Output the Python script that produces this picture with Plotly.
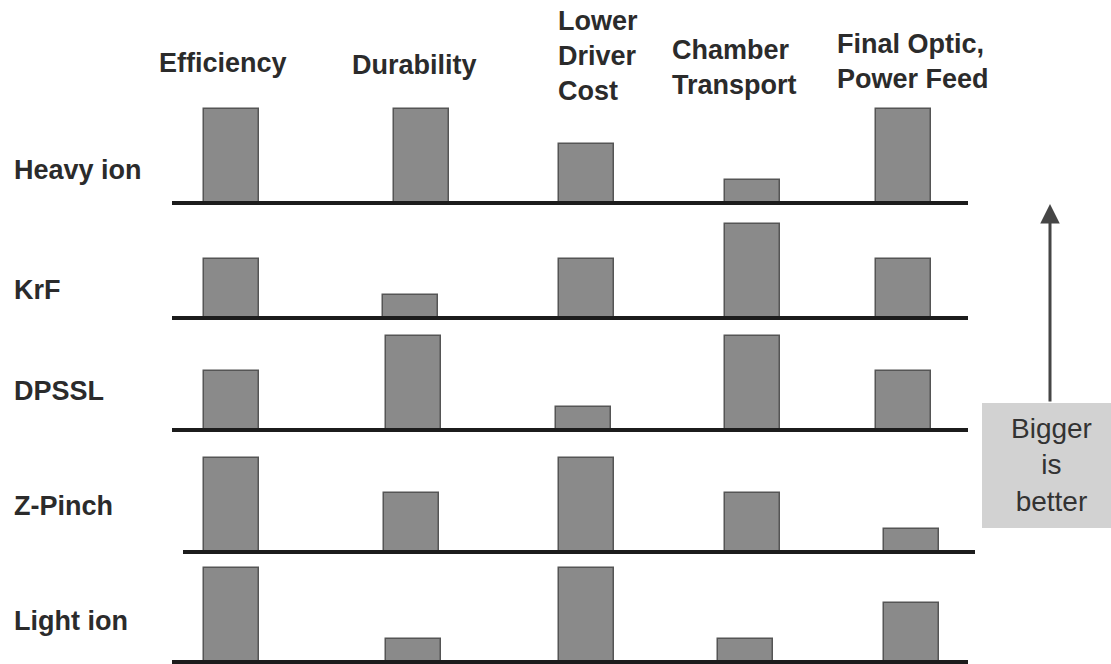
import plotly.graph_objects as go

# Driver technologies compared across five criteria (bigger bar = better)
criteria = ["Efficiency", "Durability", "Lower<br>Driver<br>Cost",
            "Chamber<br>Transport", "Final Optic,<br>Power Feed"]
drivers = ["Heavy ion", "KrF", "DPSSL", "Z-Pinch", "Light ion"]

heavy_ion = [4, 4, 2.5, 1, 4]
krf = [2.5, 1, 2.5, 4, 2.5]
dpssl = [2.5, 4, 1, 4, 2.5]
z_pinch = [4, 2.5, 4, 2.5, 1]
light_ion = [4, 1, 4, 1, 2.5]
scores = [heavy_ion, krf, dpssl, z_pinch, light_ion]

# ---- layout (pixel-based canvas) ----
W, H = 1111, 664
PX_PER_UNIT = 23.5
Y_LO, Y_HI = -0.08, 4.3
baselines_px = [203, 318, 430, 552, 662]
bar_centers = [
    [231, 421, 586, 752, 903],
    [231, 410, 586, 752, 903],
    [231, 413, 583, 752, 903],
    [231, 411, 586, 752, 911],
    [231, 413, 586, 745, 911],
]
line_spans = [(172, 968), (172, 968), (172, 968), (183, 975), (172, 968)]
label_y_px = [170, 290, 391, 506, 621]

BAR_FILL = "#8a8a8a"
BAR_EDGE = "#555555"
AXIS_LINE = "#1c1c1c"
TEXT = "#2b2b2b"
FONT = "Liberation Sans"
LABEL_SIZE = 27


def py(px):
    return 1 - px / H


fig = go.Figure()
shapes = []
annotations = []
layout_axes = {}

for i, (name, vals) in enumerate(zip(drivers, scores)):
    yname = "y" if i == 0 else f"y{i + 1}"
    axkey = "yaxis" if i == 0 else f"yaxis{i + 1}"
    b = baselines_px[i]
    lo = (H - b + Y_LO * PX_PER_UNIT) / H
    hi = (H - b + Y_HI * PX_PER_UNIT) / H
    layout_axes[axkey] = dict(domain=[max(lo, 0), hi], range=[Y_LO, Y_HI],
                              anchor="x", visible=False, fixedrange=True)
    fig.add_trace(go.Bar(
        x=bar_centers[i], y=vals, width=55, name=name,
        xaxis="x", yaxis=yname,
        marker=dict(color=BAR_FILL, line=dict(color=BAR_EDGE, width=1.5)),
        hoverinfo="skip", showlegend=False,
    ))
    x0, x1 = line_spans[i]
    shapes.append(dict(type="line", xref="x", yref=yname, x0=x0, x1=x1, y0=0, y1=0,
                       line=dict(color=AXIS_LINE, width=4), layer="above"))
    annotations.append(dict(text=f"<b>{name}</b>", xref="paper", yref="paper",
                            x=12 / W, y=py(label_y_px[i]), xanchor="left", yanchor="middle",
                            showarrow=False, font=dict(family=FONT, size=LABEL_SIZE, color=TEXT)))

# column headers
header_pos = [
    (157, 63),
    (350, 65),
    (556, 56),
    (670, 67),
    (835, 61),
]
for text, (x, y) in zip(criteria, header_pos):
    annotations.append(dict(text=f"<b>{text}</b>", xref="x", yref="paper",
                            x=x, y=py(y), xanchor="left", yanchor="middle", align="left",
                            showarrow=False, font=dict(family=FONT, size=LABEL_SIZE, color=TEXT)))

# "Bigger is better" key with upward arrow
shapes.append(dict(type="rect", xref="x", yref="paper", x0=982, x1=1111,
                   y0=py(528), y1=py(403), fillcolor="#d2d2d2", line=dict(width=0),
                   layer="below"))
annotations.append(dict(text="Bigger<br>is<br>better", xref="x", yref="paper",
                        x=1051, y=py(465), xanchor="center", yanchor="middle",
                        align="center", showarrow=False,
                        font=dict(family=FONT, size=28, color="#333333")))
annotations.append(dict(text="", xref="x", yref="paper", x=1050, y=py(204),
                        ax=0, ay=199, showarrow=True, arrowhead=2, arrowsize=1.3,
                        arrowwidth=3, arrowcolor="#454545"))

fig.update_layout(
    width=W, height=H,
    margin=dict(l=0, r=0, t=0, b=0),
    paper_bgcolor="white", plot_bgcolor="rgba(0,0,0,0)",
    xaxis=dict(domain=[0, 1], range=[0, W], visible=False, fixedrange=True),
    shapes=shapes, annotations=annotations,
    bargap=0, showlegend=False,
    **layout_axes,
)

fig.write_html("out.html", config={"displayModeBar": False})
